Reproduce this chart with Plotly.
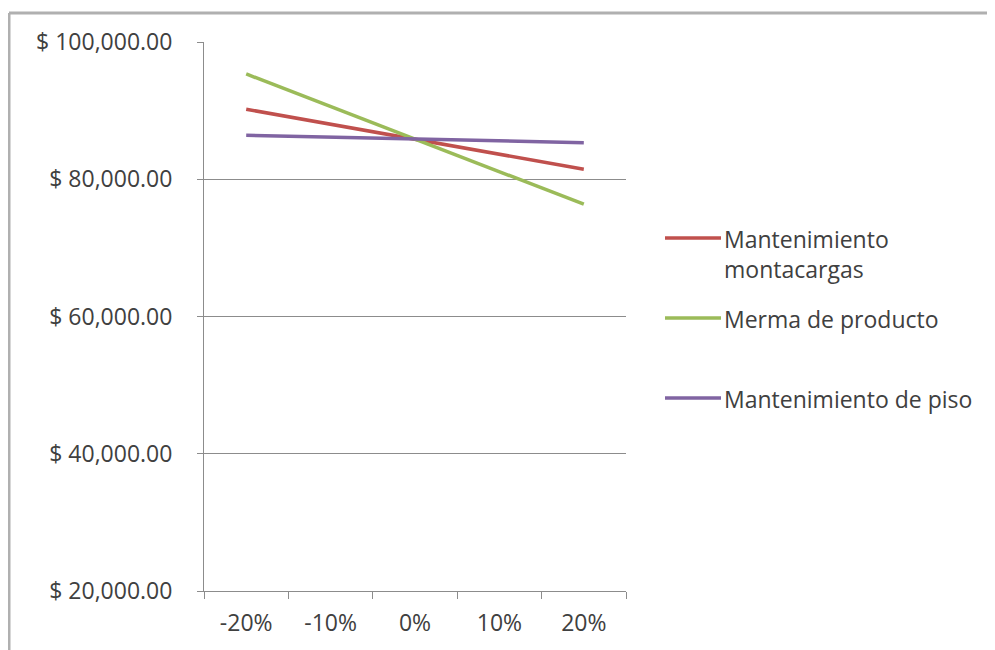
import plotly.graph_objects as go

categories = ["-20%", "-10%", "0%", "10%", "20%"]
series_names = ["Mantenimiento<br>montacargas", "Merma de producto", "Mantenimiento de piso"]
montacargas = [90200, 88010, 85830, 83640, 81460]
merma = [95340, 90590, 85850, 81100, 76360]
piso = [86410, 86140, 85870, 85600, 85330]
colors = ["#C0504D", "#9BBB59", "#8064A2"]
y_ticks = [20000, 40000, 60000, 80000, 100000]
y_ticktext = ["$ {:,.2f}".format(v) for v in y_ticks]

OFF = 8  # page body margin
W, H = 995 - OFF, 650 - OFF
L, R, T, B = 204 - OFF, 626 - OFF, 42 - OFF, 591 - OFF

def px(x):
    return (x - OFF - L) / (R - L)

def py(y):
    return (B - (y - OFF)) / (B - T)

fig = go.Figure()
for name, vals, col in zip(series_names, [montacargas, merma, piso], colors):
    fig.add_trace(go.Scatter(x=categories, y=vals, mode="lines", name=name,
                             line=dict(color=col, width=3.5), showlegend=False))

font_family = "'Open Sans', Lato, sans-serif"
text_color = "#404040"
fs = 23

fig.update_layout(
    width=W, height=H,
    margin=dict(l=L, r=W - R, t=T, b=H - B, autoexpand=False),
    paper_bgcolor="white", plot_bgcolor="white",
    font=dict(family=font_family, size=fs, color=text_color),
    xaxis=dict(type="category", range=[-0.5, 4.5], showgrid=False,
               showline=True, linecolor="#8c8c8c", linewidth=1,
               ticks="outside", tickson="boundaries", ticklen=7, tickcolor="#8c8c8c",
               ticklabelstandoff=11, zeroline=False,
               tickfont=dict(size=fs, color=text_color)),
    yaxis=dict(range=[20000, 100000], tickmode="array", tickvals=y_ticks, ticktext=y_ticktext,
               showgrid=True, gridcolor="#8c8c8c", gridwidth=1,
               showline=True, linecolor="#8c8c8c", linewidth=1,
               ticks="outside", ticklen=6, tickcolor="#8c8c8c",
               ticklabelstandoff=20, zeroline=False,
               tickfont=dict(size=fs, color=text_color)),
)

# outer chart frame (left and top edges visible)
fig.add_shape(type="line", xref="paper", yref="paper", x0=px(9), x1=px(1000), y0=py(13), y1=py(13),
              line=dict(color="#b0b0b0", width=3))
fig.add_shape(type="line", xref="paper", yref="paper", x0=px(9), x1=px(9), y0=py(13), y1=py(700),
              line=dict(color="#b0b0b0", width=3))

# legend
legend_y = [238, 318, 398]
for name, col, ly in zip(series_names, colors, legend_y):
    fig.add_shape(type="line", xref="paper", yref="paper", x0=px(665), x1=px(721), y0=py(ly), y1=py(ly),
                  line=dict(color=col, width=3.5))
    fig.add_annotation(xref="paper", yref="paper", x=px(722), y=py(ly - 17), xanchor="left", yanchor="top",
                       text=name, showarrow=False, align="left",
                       font=dict(size=fs, color=text_color, family=font_family))

fig.write_html("out.html")
